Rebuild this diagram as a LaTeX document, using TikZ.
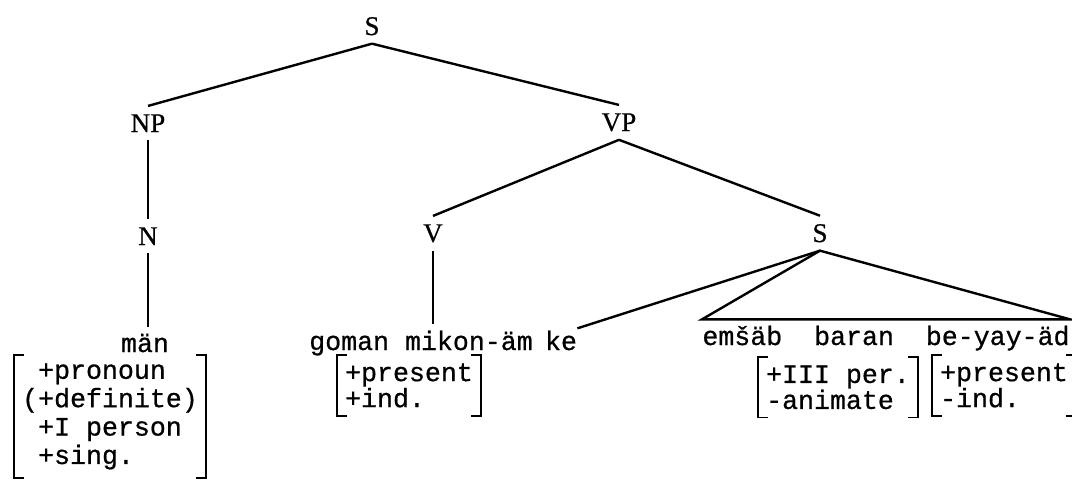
\documentclass[tikz,border=0pt]{standalone}
\usepackage{fontspec}
\newfontfamily\labelfont[FakeBold=0.6]{Liberation Serif}
\newfontfamily\typew[FakeBold=0.7]{Liberation Mono}

\begin{document}
\begin{tikzpicture}[
    x=0.5pt, y=-0.5pt,
    cat/.style={inner xsep=0pt, inner ysep=4pt, anchor=base, font=\labelfont\fontsize{13.5}{15}\selectfont},
    word/.style={inner xsep=0pt, inner ysep=3pt, anchor=base, font=\typew\fontsize{13.3}{15}\selectfont},
    feat/.style={inner xsep=4pt, inner ysep=4pt, anchor=north, align=left, font=\typew\fontsize{13.3}{13}\selectfont},
    branch/.style={line width=1.2pt},
    brack/.style={line width=0.8pt}
]
    \useasboundingbox (0,0) rectangle (1072,484);

    % categories
    \node[cat] (S0) at (372,35) {S};
    \node[cat] (NP) at (148,132) {NP};
    \node[cat] (VP) at (619,131) {VP};
    \node[cat] (N) at (148,245) {N};
    \node[cat] (V) at (433,242) {V};
    \node[cat] (S1) at (820,242) {S};

    % words
    \node[word] (man) at (145,352) {män};
    \node[word] (gm) at (421,350) {goman mikon-äm};
    \node[word] (ke) at (561,350) {ke};
    \node[word] (words) at (886,345) {emšäb\ \ baran\ \ be-yay-äd};

    % feature matrices
    \node[feat, font=\typew\fontsize{13.3}{14.2}\selectfont] (manf) at (110,355)
        {\hphantom{(}+pronoun\\(+definite)\\\hphantom{(}+I person\\\hphantom{(}+sing.};
    \node[feat] (gomf) at (409,355) {+present\\+ind.};
    \node[feat] (perf) at (838,357) {+III per.\\-animate};
    \node[feat] (presf) at (1004,355) {+present\\-ind.};

    \foreach \f in {manf, gomf, perf, presf} {
        \draw[brack] ([xshift=5pt]\f.north west) -| (\f.south west) -- ++(5pt,0);
        \draw[brack] ([xshift=-5pt]\f.north east) -| (\f.south east) -- ++(-5pt,0);
    }

    % branches
    \draw[branch] (S0.south) -- (NP.north);
    \draw[branch] (S0.south) -- (VP.north);
    \draw[branch] (NP.south) -- (N.north);
    \draw[branch] (N.south) -- (N.south |- man.north);
    \draw[branch] (VP.south) -- (V.north);
    \draw[branch] (VP.south) -- (S1.north);
    \draw[branch] (V.south) -- (V.south |- gm.north);
    \draw[branch] (S1.south) -- ([yshift=-2pt]ke.north east);
    \draw[branch] (S1.south) -- (words.north west) -- (words.north east) -- cycle;
\end{tikzpicture}
\end{document}
